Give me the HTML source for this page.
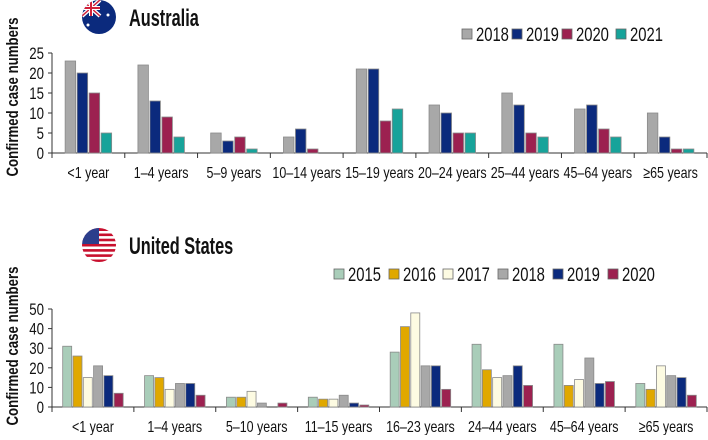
<!DOCTYPE html>
<html><head><meta charset="utf-8">
<style>
body{margin:0;background:#fff;}
svg text{font-family:"Liberation Sans",sans-serif;fill:#111;}
</style></head>
<body>
<svg id="c" width="708" height="435" viewBox="0 0 708 435" xmlns="http://www.w3.org/2000/svg">
<defs>
<clipPath id="cpA"><circle cx="99" cy="17" r="17"/></clipPath>
<clipPath id="cpU"><circle cx="99" cy="245" r="17"/></clipPath>
</defs>
<g clip-path="url(#cpA)">
<rect x="82" y="0" width="34" height="34" fill="#0b2a7d"/>
<line x1="82" y1="0" x2="100" y2="16" stroke="#fff" stroke-width="4"/>
<line x1="100" y1="0" x2="82" y2="16" stroke="#fff" stroke-width="4"/>
<line x1="82" y1="0" x2="100" y2="16" stroke="#d0203a" stroke-width="1.5"/>
<line x1="100" y1="0" x2="82" y2="16" stroke="#d0203a" stroke-width="1.5"/>
<rect x="82" y="6" width="18" height="4" fill="#fff"/><rect x="89" y="0" width="4" height="16" fill="#fff"/>
<rect x="82" y="7" width="18" height="2" fill="#d0203a"/><rect x="90" y="0" width="2" height="16" fill="#d0203a"/>
<circle cx="108" cy="15" r="1.5" fill="#fff"/><circle cx="88" cy="25" r="1.5" fill="#fff"/>
</g>
<text x="189.7" y="26" transform="scale(0.68,1)" font-size="24" font-weight="bold">Australia</text>
<g clip-path="url(#cpU)">
<rect x="82" y="228" width="34" height="34" fill="#fff"/>
<rect x="82" y="228" width="34" height="3" fill="#c8102e"/><rect x="82" y="233.5" width="34" height="2.6" fill="#c8102e"/>
<rect x="82" y="238.7" width="34" height="2.6" fill="#c8102e"/><rect x="82" y="243.9" width="34" height="2.6" fill="#c8102e"/>
<rect x="82" y="249.1" width="34" height="2.6" fill="#c8102e"/><rect x="82" y="254.3" width="34" height="2.6" fill="#c8102e"/>
<rect x="82" y="259.5" width="34" height="3" fill="#c8102e"/>
<rect x="82" y="228" width="17" height="16" fill="#2c3e8c"/>
</g>
<text x="189.7" y="254" transform="scale(0.68,1)" font-size="24" font-weight="bold">United States</text>
<g id="g"></g>
</svg>
<script>
const NS='http://www.w3.org/2000/svg';
const g=document.getElementById('g');
const SX=0.78;
function mk(t,a,txt){const e=document.createElementNS(NS,t);for(const k in a)e.setAttribute(k,a[k]);if(txt!==undefined)e.textContent=txt;g.appendChild(e);return e;}
function tx(x,y,size,anchor,s,extra){const a={x:x/SX,y:y,'font-size':size,'text-anchor':anchor,transform:`scale(${SX},1)`};Object.assign(a,extra||{});return mk('text',a,s);}

// Australia data
const auCategories=['<1 year','1–4 years','5–9 years','10–14 years','15–19 years','20–24 years','25–44 years','45–64 years','≥65 years'];
const auSeriesNames=['2018','2019','2020','2021'];
const au2018=[23,22,5,4,21,12,15,11,10];
const au2019=[20,13,3,6,21,10,12,12,4];
const au2020=[15,9,4,1,8,5,5,6,1];
const au2021=[5,4,1,0,11,5,4,4,1];
const auTicks=[0,5,10,15,20,25];

// US data
const usCategories=['<1 year','1–4 years','5–10 years','11–15 years','16–23 years','24–44 years','45–64 years','≥65 years'];
const usSeriesNames=['2015','2016','2017','2018','2019','2020'];
const us2015=[31,16,5,5,28,32,32,12];
const us2016=[26,15,5,4,41,19,11,9];
const us2017=[15,9,8,4,48,15,14,21];
const us2018=[21,12,2,6,21,16,25,16];
const us2019=[16,12,0,2,21,21,12,15];
const us2020=[7,6,2,1,9,11,13,6];
const usTicks=[0,10,20,30,40,50];

function chart(o){
  const {pre,cats,series,names,colors,ticks,x0,x1,y0,yTop,max,barW,step,legX,legY,titleY}=o;
  const cw=(x1-x0)/cats.length;
  const ys=v=>y0-(v/max)*(y0-yTop);
  let e=mk('line',{x1:x0,y1:yTop,x2:x0,y2:y0,stroke:'#333','stroke-width':1});
  
  
  e=mk('line',{x1:x0-4,y1:y0,x2:x1,y2:y0,stroke:'#333','stroke-width':1});
  
  
  ticks.forEach(t=>{
    const y=ys(t);
    let l=mk('line',{x1:x0-4,y1:y,x2:x0,y2:y,stroke:'#333'});
    
    
    let tt=tx(x0-8,y+6,17,'end',String(t));
    
    
  });
  for(let i=0;i<=cats.length;i++){
    const x=x0+i*cw;
    let l=mk('line',{x1:x,y1:y0,x2:x,y2:y0+5,stroke:'#333'});
    
    
  }
  const grpW=step*(series.length-1)+barW;
  cats.forEach((c,i)=>{
    const cx=x0+(i+0.5)*cw;
    let tt=tx(cx,y0+25,16,'middle',c);
    
    
    series.forEach((s,j)=>{
      const v=s[i];
      const bx=cx-grpW/2+j*step;
      const y=ys(v);
      let r=mk('rect',{x:bx,y:y,width:barW,height:Math.max(0,y0-y),fill:colors[j],stroke:'#8a8a8a','stroke-width':0.8});
      
      
    });
  });
  const ty=(yTop+y0)/2+(titleY||0);
  let t=mk('text',{x:0,y:0,'font-size':17,'font-weight':'bold','text-anchor':'middle',transform:`translate(18,${ty}) rotate(-90) scale(${SX},1)`},'Confirmed case numbers');
  
  
  names.forEach((n,j)=>{
    const lx=legX[j];
    let r=mk('rect',{x:lx,y:legY-6,width:10,height:10,fill:colors[j],stroke:'#666','stroke-width':0.8});
    
    
    let tt=tx(lx+14,legY+6,19,'start',n);
    
    
  });
}
chart({pre:'au',cats:auCategories,series:[au2018,au2019,au2020,au2021],names:auSeriesNames,
  colors:['#a8a8a8','#0b2a7d','#9c2150','#17a39a'],ticks:auTicks,x0:52,x1:707,y0:153,yTop:53,max:25,
  barW:10.5,step:12,legX:[462,512,562,616],legY:35,titleY:-6});
chart({pre:'us',cats:usCategories,series:[us2015,us2016,us2017,us2018,us2019,us2020],names:usSeriesNames,
  colors:['#a9cdb9','#e0a800','#fdfbe2','#a8a8a8','#0b2a7d','#9c2150'],ticks:usTicks,x0:52,x1:707,y0:407,yTop:309,max:50,
  barW:9,step:10.3,legX:[334,389,443,498,553,608],legY:275,titleY:-12});
</script>
</body></html>
